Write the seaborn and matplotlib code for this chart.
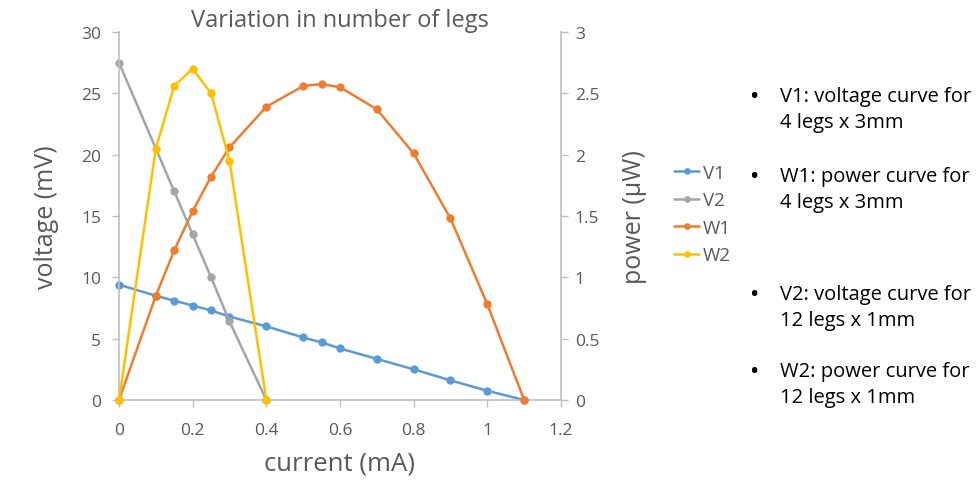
import matplotlib
matplotlib.use("Agg")
import matplotlib.pyplot as plt
import matplotlib.ticker as mticker
import seaborn as sns
import pandas as pd

# ---- data ----
v1_current = [0, 0.1, 0.15, 0.2, 0.25, 0.3, 0.4, 0.5, 0.55, 0.6, 0.7, 0.8, 0.9, 1.0, 1.1]
v1_voltage = [9.4, 8.5, 8.1, 7.7, 7.3, 6.8, 6.0, 5.1, 4.7, 4.2, 3.35, 2.5, 1.6, 0.75, 0]
v2_current = [0, 0.15, 0.2, 0.25, 0.3, 0.4]
v2_voltage = [27.5, 17.0, 13.5, 10.0, 6.4, 0]
w1_current = [0, 0.1, 0.15, 0.2, 0.25, 0.3, 0.4, 0.5, 0.55, 0.6, 0.7, 0.8, 0.9, 1.0, 1.1]
w1_power = [0, 0.85, 1.22, 1.54, 1.82, 2.06, 2.39, 2.56, 2.575, 2.55, 2.37, 2.01, 1.48, 0.78, 0]
w2_current = [0, 0.1, 0.15, 0.2, 0.25, 0.3, 0.4]
w2_power = [0, 2.05, 2.56, 2.70, 2.50, 1.95, 0]

x_ticks = [0, 0.2, 0.4, 0.6, 0.8, 1.0, 1.2]
y_ticks = [0, 5, 10, 15, 20, 25, 30]
y2_ticks = [0, 0.5, 1, 1.5, 2, 2.5, 3]

notes = [
    "V1: voltage curve for\n4 legs x 3mm",
    "W1: power curve for\n4 legs x 3mm",
    "V2: voltage curve for\n12 legs x 1mm",
    "W2: power curve for\n12 legs x 1mm",
]

colors = {"V1": "#5B9BD5", "V2": "#A5A5A5", "W1": "#ED7D31", "W2": "#FFC000"}

volt_df = pd.concat([
    pd.DataFrame({"current": v1_current, "value": v1_voltage, "series": "V1"}),
    pd.DataFrame({"current": v2_current, "value": v2_voltage, "series": "V2"}),
])
pow_df = pd.concat([
    pd.DataFrame({"current": w1_current, "value": w1_power, "series": "W1"}),
    pd.DataFrame({"current": w2_current, "value": w2_power, "series": "W2"}),
])

sns.set_theme(style="white")
plt.rcParams["font.family"] = ["Open Sans", "DejaVu Sans"]

txt = "#595959"
spine_c = "#BFBFBF"

fig = plt.figure(figsize=(9.79, 4.81), dpi=100)
ax = fig.add_axes([119/979, 1-401/481, (561-119)/979, (401-33)/481])
ax2 = ax.twinx()

for name, g in volt_df.groupby("series", sort=False):
    sns.lineplot(data=g, x="current", y="value", ax=ax, color=colors[name],
                 marker="o", markersize=6, markeredgewidth=0, linewidth=1.8,
                 label=name, legend=False, sort=False)
for name, g in pow_df.groupby("series", sort=False):
    sns.lineplot(data=g, x="current", y="value", ax=ax2, color=colors[name],
                 marker="o", markersize=6, markeredgewidth=0, linewidth=1.8,
                 label=name, legend=False, sort=False)

for a in (ax, ax2):
    for line in a.lines:
        line.set_clip_on(False)

ax.set_xlim(0, 1.2)
ax.set_ylim(0, 30)
ax2.set_ylim(0, 3)
ax.set_xticks(x_ticks)
ax.set_yticks(y_ticks)
ax2.set_yticks(y2_ticks)

fmt = mticker.FuncFormatter(lambda v, p: ("%g" % v))
ax.xaxis.set_major_formatter(fmt)
ax.yaxis.set_major_formatter(fmt)
ax2.yaxis.set_major_formatter(fmt)

for a in (ax, ax2):
    for s in a.spines.values():
        s.set_color(spine_c)
        s.set_linewidth(1.2)
    a.spines["top"].set_visible(False)
    a.grid(False)
ax.spines["right"].set_visible(False)
ax2.spines["left"].set_visible(False)
ax2.spines["bottom"].set_visible(False)

ax.tick_params(axis="y", which="major", direction="out", length=5, width=1,
               color=spine_c, labelcolor=txt, labelsize=12.5, left=True, pad=8)
ax.tick_params(axis="x", which="major", direction="out", length=5, width=1,
               color=spine_c, labelcolor=txt, labelsize=12.5, bottom=True, pad=11)
ax2.tick_params(axis="y", direction="out", length=5, width=1, color=spine_c,
                labelcolor=txt, labelsize=12.5, right=True, pad=5)

ax.set_xlabel("current (mA)", fontsize=18.5, color=txt, labelpad=9)
ax.set_ylabel("voltage (mV)", fontsize=18, color=txt, labelpad=16)
ax2.set_ylabel("power (µW)", fontsize=18, color=txt, labelpad=16)
fig.text(340/979, 1 - 21/481, "Variation in number of legs",
         fontsize=17, color=txt, ha="center", va="center")

handles = ax.lines[:2] + ax2.lines[:2]
labels = ["V1", "V2", "W1", "W2"]
fig.legend(handles, labels,
           loc="center left", bbox_to_anchor=(674/979, 1-215/481), frameon=False,
           borderaxespad=0, borderpad=0,
           fontsize=13.5, labelcolor=txt, handlelength=1.35, handletextpad=0.2,
           labelspacing=0.5, markerscale=0.8)

note_y = [97, 177, 295, 372]
for t, yy in zip(notes, note_y):
    fig.text(750/979, 1-yy/481, "•", fontsize=14, color="black", va="center",
             fontweight="bold")
    fig.text(780/979, 1-(yy-10)/481, t, fontsize=14.5, color="black", va="top",
             linespacing=1.4)

fig.savefig("out.png", dpi=100)
